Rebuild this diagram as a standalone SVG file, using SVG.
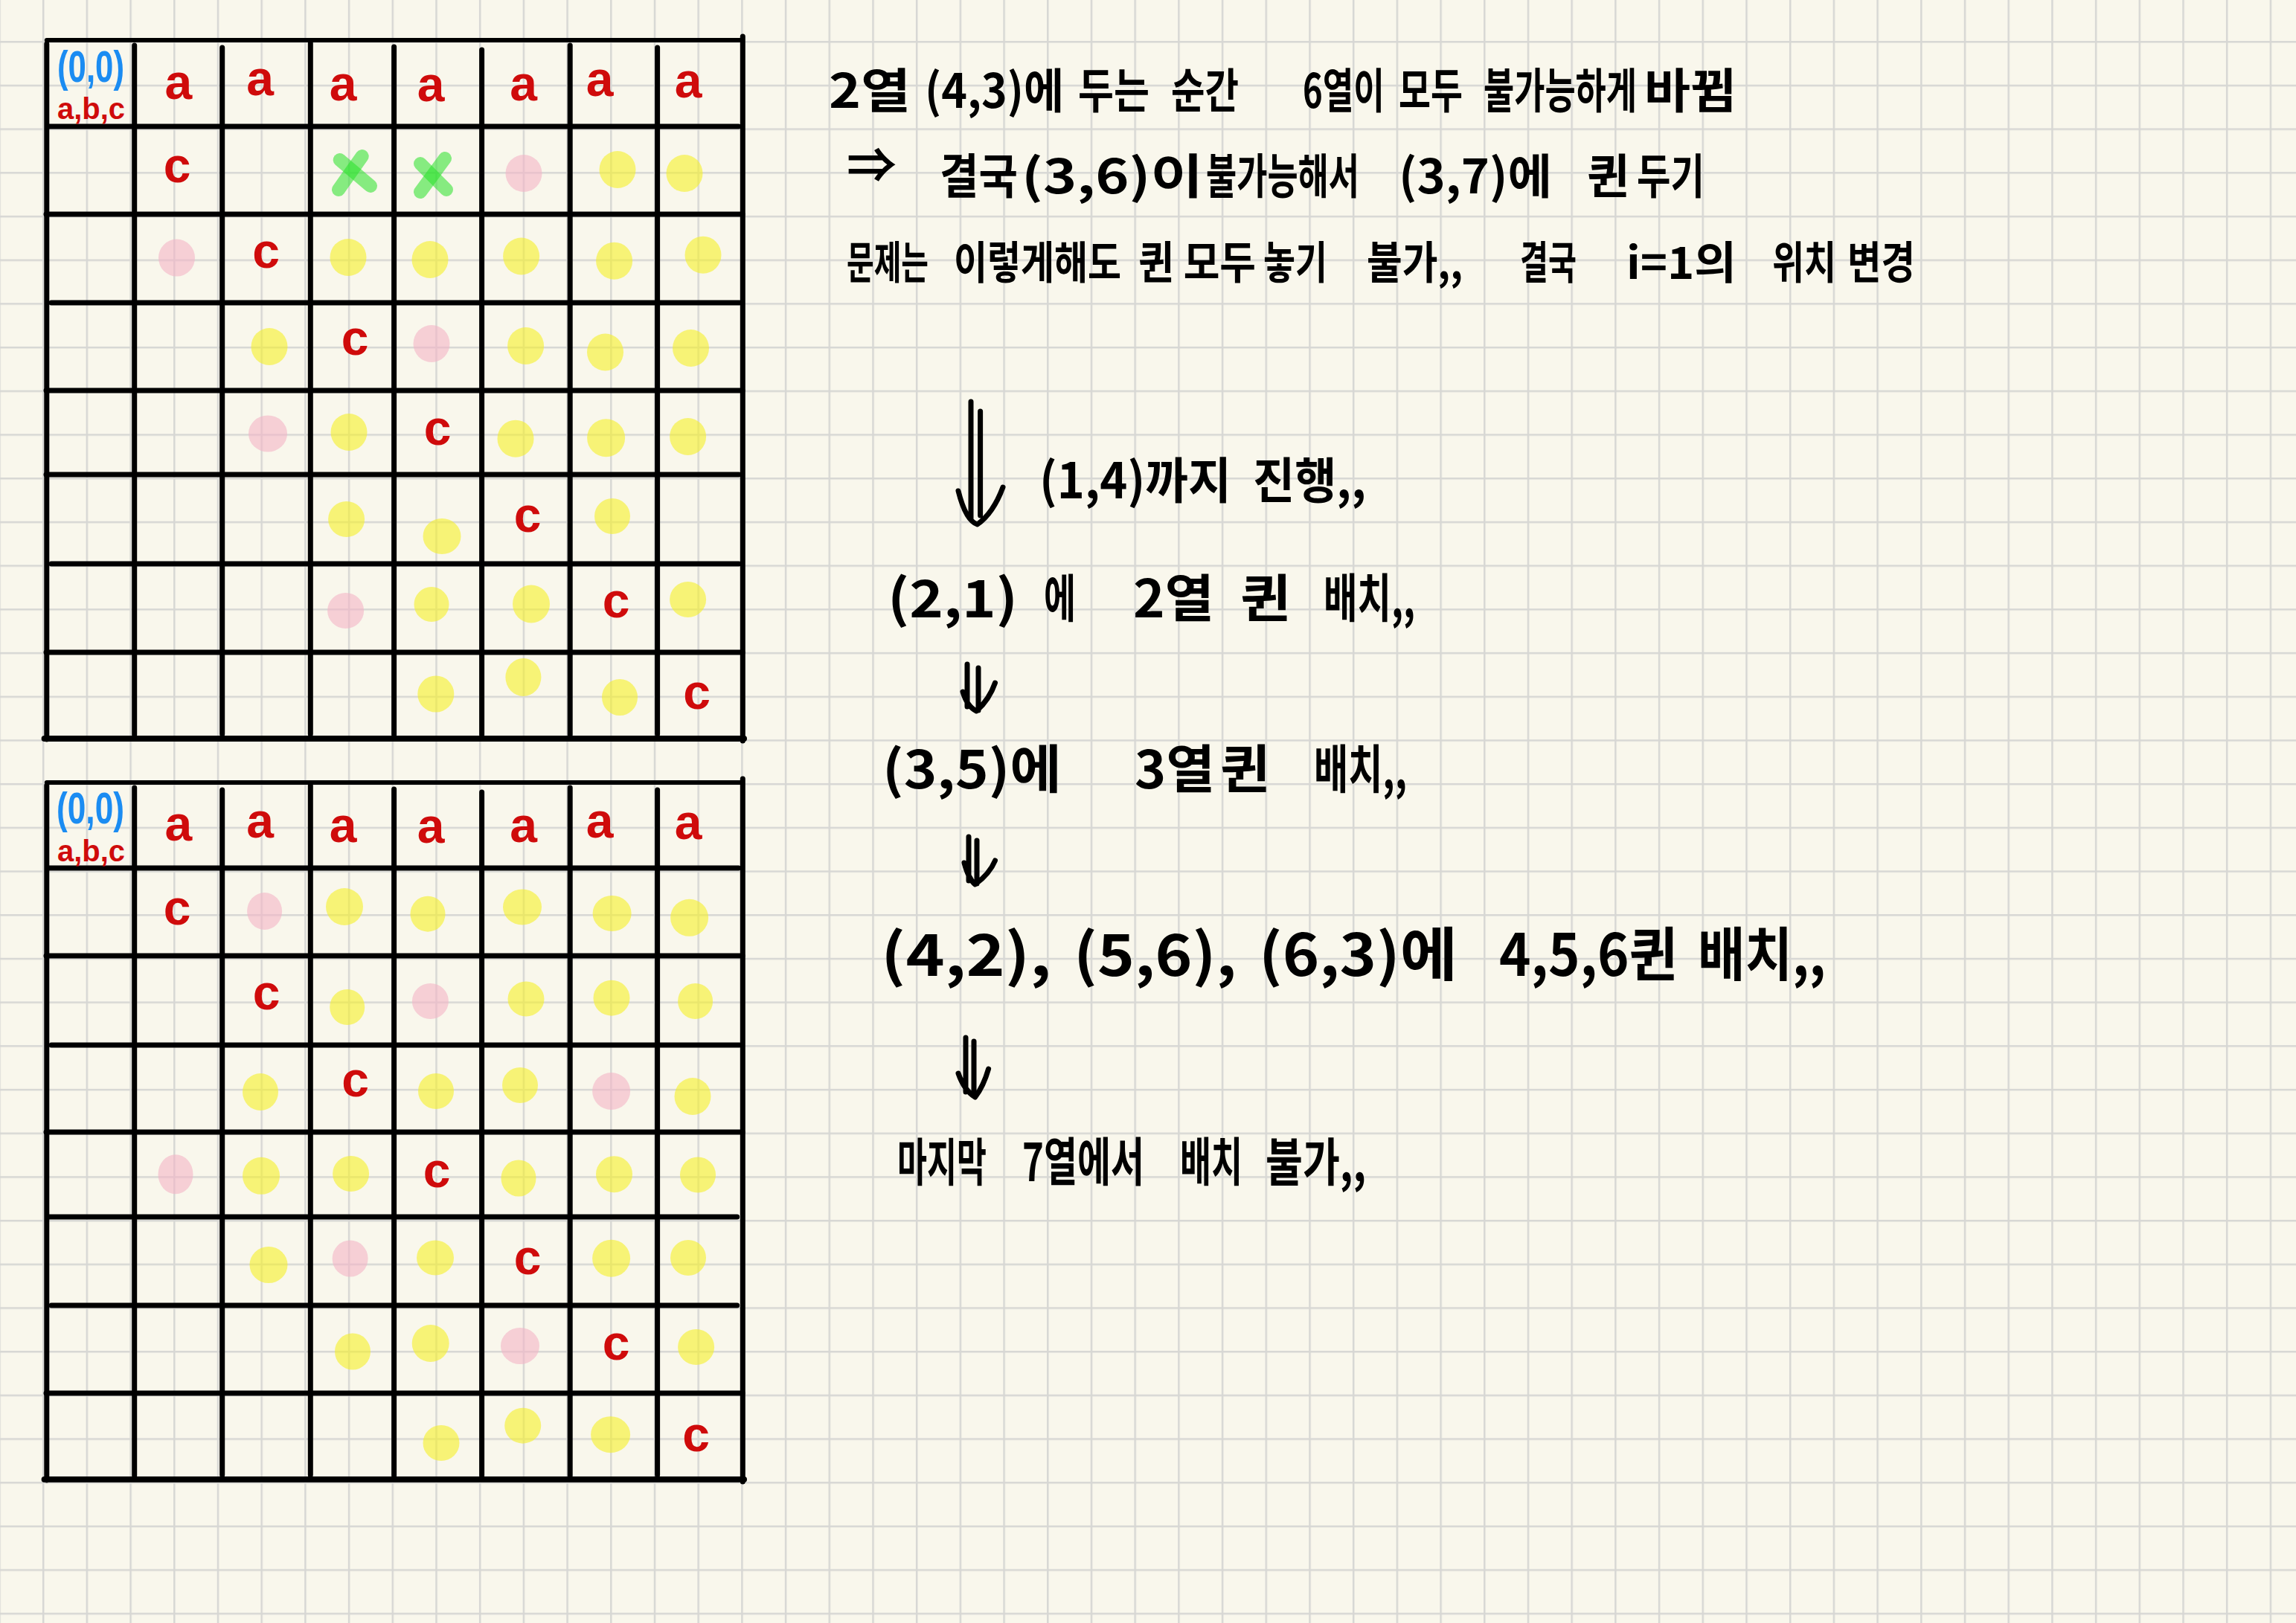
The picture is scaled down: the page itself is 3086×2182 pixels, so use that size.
<svg xmlns="http://www.w3.org/2000/svg" width="3086" height="2182" viewBox="0 0 3086 2182">
<defs>
<pattern id="pg" patternUnits="userSpaceOnUse" x="-1.75" y="-3.65" width="58.7" height="58.7">
<path d="M0 1.25H58.7M1.25 0V58.7" stroke="#d7d7d4" stroke-width="2.5" fill="none"/>
</pattern>
<style>
.gl{stroke:#000;stroke-width:7;stroke-linecap:round;fill:none}
.gb{stroke:#000;stroke-width:8;stroke-linecap:round;fill:none}
.ra{fill:#cf0b0b;font-family:"Liberation Sans","Noto Sans",sans-serif;font-weight:bold;font-size:66px;text-anchor:middle}
.bl{fill:#1b8cf2;font-family:"Liberation Sans","Noto Sans",sans-serif;font-weight:bold;font-size:44px}
.rs{fill:#cf0b0b;font-family:"Liberation Sans","Noto Sans",sans-serif;font-weight:bold;font-size:40px}
.y{fill:rgb(245,240,40);fill-opacity:0.6}
.p{fill:rgb(244,180,198);fill-opacity:0.6}
.gx{stroke:rgb(40,225,40);stroke-opacity:0.55;stroke-width:18;stroke-linecap:round}
.t{font-family:"Noto Sans CJK KR","Noto Sans",sans-serif;font-weight:700;fill:#000}
.ar{stroke:#000;stroke-width:7;stroke-linecap:round;stroke-linejoin:round;fill:none}
</style>
</defs>
<rect width="3086" height="2182" fill="#f9f7ec"/>
<rect width="3086" height="2182" fill="url(#pg)"/>

<g id="grid1">
<g id="grid1-marks">
<ellipse class="p" cx="704" cy="233" rx="24.5" ry="25"/>
<ellipse class="y" cx="830" cy="228" rx="24.5" ry="25"/>
<ellipse class="y" cx="920" cy="233" rx="24.5" ry="25"/>
<ellipse class="p" cx="237.5" cy="346.6" rx="24.5" ry="25"/>
<ellipse class="y" cx="468" cy="346" rx="24.5" ry="25"/>
<ellipse class="y" cx="578" cy="349" rx="24.5" ry="25"/>
<ellipse class="y" cx="700.6" cy="344.5" rx="24.5" ry="25"/>
<ellipse class="y" cx="825.6" cy="350.7" rx="24.5" ry="25"/>
<ellipse class="y" cx="945" cy="342.7" rx="24.5" ry="25"/>
<ellipse class="y" cx="362" cy="466" rx="24.5" ry="25"/>
<ellipse class="p" cx="580" cy="462" rx="24.5" ry="25"/>
<ellipse class="y" cx="706.6" cy="465" rx="24.5" ry="25"/>
<ellipse class="y" cx="813.5" cy="473.5" rx="24.5" ry="25"/>
<ellipse class="y" cx="928.5" cy="468" rx="24.5" ry="25"/>
<ellipse class="p" cx="360" cy="583" rx="26" ry="24.5"/>
<ellipse class="y" cx="469" cy="581" rx="24.5" ry="25"/>
<ellipse class="y" cx="693" cy="589.7" rx="24.5" ry="25"/>
<ellipse class="y" cx="814.6" cy="588.7" rx="25.5" ry="25.5"/>
<ellipse class="y" cx="924.6" cy="587" rx="24.5" ry="25"/>
<ellipse class="y" cx="465.6" cy="698" rx="24.5" ry="24"/>
<ellipse class="y" cx="594" cy="721" rx="25.5" ry="24"/>
<ellipse class="y" cx="823" cy="694" rx="24" ry="24"/>
<ellipse class="p" cx="464.6" cy="821" rx="24.5" ry="24"/>
<ellipse class="y" cx="580" cy="812.5" rx="23.5" ry="23.5"/>
<ellipse class="y" cx="714" cy="812" rx="25" ry="25.5"/>
<ellipse class="y" cx="924.6" cy="806" rx="24.5" ry="24"/>
<ellipse class="y" cx="585.8" cy="933" rx="24.5" ry="24.5"/>
<ellipse class="y" cx="703.4" cy="910.5" rx="24" ry="25.5"/>
<ellipse class="y" cx="833" cy="937.5" rx="24" ry="24.5"/>
<line class="gx" x1="455" y1="255" x2="486.7" y2="210"/>
<line class="gx" x1="456.7" y1="215" x2="498" y2="250"/>
<line class="gx" x1="565" y1="258" x2="598" y2="213"/>
<line class="gx" x1="565" y1="220" x2="600" y2="255"/>
</g>
<g id="grid1-lines">
<line class="gl" x1="62.8" y1="54" x2="998" y2="54" style="stroke-width:6"/>
<line class="gl" x1="66" y1="170" x2="992.6" y2="170"/>
<line class="gl" x1="62" y1="288" x2="998" y2="288"/>
<line class="gl" x1="69" y1="407" x2="994" y2="407"/>
<line class="gl" x1="62" y1="525" x2="998" y2="525"/>
<line class="gl" x1="62" y1="638" x2="993" y2="638"/>
<line class="gl" x1="69" y1="758" x2="993" y2="758"/>
<line class="gl" x1="62" y1="877" x2="998" y2="877"/>
<line class="gb" x1="59.6" y1="993" x2="1000" y2="993"/>
<line class="gl" x1="62.8" y1="59" x2="62.8" y2="994"/>
<line class="gl" x1="180.7" y1="61" x2="180.7" y2="988"/>
<line class="gl" x1="298.7" y1="64" x2="298.7" y2="987"/>
<line class="gl" x1="417.3" y1="58" x2="417.3" y2="987"/>
<line class="gl" x1="529.6" y1="63" x2="529.6" y2="988"/>
<line class="gl" x1="647.6" y1="67" x2="647.6" y2="988"/>
<line class="gl" x1="766.2" y1="61" x2="766.2" y2="988"/>
<line class="gl" x1="883.6" y1="64" x2="883.6" y2="987"/>
<line class="gl" x1="998.3" y1="49" x2="998.3" y2="996"/>
</g>
<g id="grid1-labels">
<text class="bl" transform="translate(77,110) scale(1,1.33)" textLength="90" lengthAdjust="spacingAndGlyphs">(0,0)</text>
<text class="rs" x="77" y="160" textLength="91" lengthAdjust="spacingAndGlyphs">a,b,c</text>
<text class="ra" x="239.8" y="133">a</text>
<text class="ra" x="349.6" y="128">a</text>
<text class="ra" x="461" y="135">a</text>
<text class="ra" x="579" y="136">a</text>
<text class="ra" x="703.7" y="135">a</text>
<text class="ra" x="806" y="129">a</text>
<text class="ra" x="925" y="131">a</text>
<text class="ra" x="238" y="245">c</text>
<text class="ra" x="357.5" y="360">c</text>
<text class="ra" x="477" y="477">c</text>
<text class="ra" x="588" y="598">c</text>
<text class="ra" x="709" y="715">c</text>
<text class="ra" x="828" y="830">c</text>
<text class="ra" x="936.5" y="953">c</text>
</g>
</g>

<g id="grid2">
<g id="grid2-marks">
<ellipse class="p" cx="355.6" cy="1225" rx="23.5" ry="25"/>
<ellipse class="y" cx="463" cy="1219" rx="25" ry="25"/>
<ellipse class="y" cx="575" cy="1228.7" rx="23.5" ry="24"/>
<ellipse class="y" cx="702" cy="1219.5" rx="26" ry="24"/>
<ellipse class="y" cx="822.6" cy="1228" rx="26" ry="24"/>
<ellipse class="y" cx="926.6" cy="1233.8" rx="25.5" ry="25"/>
<ellipse class="y" cx="466.7" cy="1354" rx="23.5" ry="24"/>
<ellipse class="p" cx="578.4" cy="1346" rx="24.5" ry="24"/>
<ellipse class="y" cx="707" cy="1343" rx="24.5" ry="23.5"/>
<ellipse class="y" cx="822" cy="1341.7" rx="24.5" ry="24"/>
<ellipse class="y" cx="934.6" cy="1346" rx="23.5" ry="24"/>
<ellipse class="y" cx="350" cy="1468" rx="24" ry="25"/>
<ellipse class="y" cx="586" cy="1467" rx="24" ry="24"/>
<ellipse class="y" cx="699" cy="1459" rx="24" ry="24"/>
<ellipse class="p" cx="821.6" cy="1467" rx="25.5" ry="25"/>
<ellipse class="y" cx="931" cy="1474" rx="24.5" ry="25"/>
<ellipse class="p" cx="236" cy="1578.7" rx="23.5" ry="26.5"/>
<ellipse class="y" cx="351" cy="1580.8" rx="25" ry="25"/>
<ellipse class="y" cx="471.6" cy="1578" rx="24.5" ry="24"/>
<ellipse class="y" cx="697" cy="1584" rx="23.5" ry="24.5"/>
<ellipse class="y" cx="825.5" cy="1578.7" rx="24.5" ry="24.5"/>
<ellipse class="y" cx="938" cy="1579.5" rx="24" ry="24"/>
<ellipse class="y" cx="361" cy="1700.5" rx="25.5" ry="24.5"/>
<ellipse class="p" cx="470.6" cy="1692" rx="24" ry="24.5"/>
<ellipse class="y" cx="585" cy="1691" rx="25" ry="23.5"/>
<ellipse class="y" cx="821.6" cy="1691.7" rx="25.5" ry="25"/>
<ellipse class="y" cx="925" cy="1691" rx="24" ry="24"/>
<ellipse class="y" cx="474" cy="1817" rx="24" ry="24.5"/>
<ellipse class="y" cx="578.7" cy="1806" rx="25" ry="25"/>
<ellipse class="p" cx="699" cy="1809.5" rx="26" ry="24.5"/>
<ellipse class="y" cx="935.6" cy="1811" rx="24.5" ry="24"/>
<ellipse class="y" cx="593" cy="1940" rx="24.5" ry="24"/>
<ellipse class="y" cx="702.7" cy="1916.7" rx="24.5" ry="24"/>
<ellipse class="y" cx="820.6" cy="1928.7" rx="26.5" ry="24.5"/>
</g>
<g id="grid2-lines">
<line class="gl" x1="62.8" y1="1052" x2="998" y2="1052" style="stroke-width:6"/>
<line class="gl" x1="66" y1="1167" x2="992.6" y2="1167"/>
<line class="gl" x1="62" y1="1285" x2="998" y2="1285"/>
<line class="gl" x1="69" y1="1405" x2="994" y2="1405"/>
<line class="gl" x1="62" y1="1522" x2="998" y2="1522"/>
<line class="gl" x1="66" y1="1636" x2="990.7" y2="1636"/>
<line class="gl" x1="69" y1="1755" x2="990.7" y2="1755"/>
<line class="gl" x1="62" y1="1873" x2="998" y2="1873"/>
<line class="gb" x1="59.6" y1="1989" x2="1000" y2="1989"/>
<line class="gl" x1="62.8" y1="1056" x2="62.8" y2="1990"/>
<line class="gl" x1="180.7" y1="1059" x2="180.7" y2="1984"/>
<line class="gl" x1="298.7" y1="1062" x2="298.7" y2="1983"/>
<line class="gl" x1="417.3" y1="1056" x2="417.3" y2="1983"/>
<line class="gl" x1="529.6" y1="1061" x2="529.6" y2="1984"/>
<line class="gl" x1="647.6" y1="1065" x2="647.6" y2="1984"/>
<line class="gl" x1="766.2" y1="1059" x2="766.2" y2="1984"/>
<line class="gl" x1="883.6" y1="1062" x2="883.6" y2="1983"/>
<line class="gl" x1="998.3" y1="1047" x2="998.3" y2="1992"/>
</g>
<g id="grid2-labels">
<text class="bl" transform="translate(76,1107) scale(1,1.33)" textLength="91" lengthAdjust="spacingAndGlyphs">(0,0)</text>
<text class="rs" x="77" y="1158" textLength="91" lengthAdjust="spacingAndGlyphs">a,b,c</text>
<text class="ra" x="239.8" y="1130">a</text>
<text class="ra" x="349.6" y="1126">a</text>
<text class="ra" x="461" y="1132">a</text>
<text class="ra" x="579" y="1133">a</text>
<text class="ra" x="703.7" y="1132">a</text>
<text class="ra" x="806" y="1126">a</text>
<text class="ra" x="925" y="1128">a</text>
<text class="ra" x="238" y="1243">c</text>
<text class="ra" x="358" y="1357">c</text>
<text class="ra" x="477.6" y="1474">c</text>
<text class="ra" x="587" y="1596">c</text>
<text class="ra" x="709" y="1713">c</text>
<text class="ra" x="828" y="1828">c</text>
<text class="ra" x="935.6" y="1951">c</text>
</g>
</g>

<g id="note-line1" class="t">
<text transform="translate(1114,145)" font-size="64" textLength="110" lengthAdjust="spacingAndGlyphs">2열</text>
<text transform="translate(1243,145) scale(1,1.1)" font-size="58" textLength="187" lengthAdjust="spacingAndGlyphs">(4,3)에</text>
<text transform="translate(1449,145) scale(1,1.39)" font-size="46" textLength="96" lengthAdjust="spacingAndGlyphs">두는</text>
<text transform="translate(1574,145) scale(1,1.45)" font-size="44" textLength="91" lengthAdjust="spacingAndGlyphs">순간</text>
<text transform="translate(1751,145) scale(1,1.56)" font-size="41" textLength="110" lengthAdjust="spacingAndGlyphs">6열이</text>
<text transform="translate(1880,145) scale(1,1.56)" font-size="41" textLength="86" lengthAdjust="spacingAndGlyphs">모두</text>
<text transform="translate(1994,145) scale(1,1.6)" font-size="40" textLength="206" lengthAdjust="spacingAndGlyphs">불가능하게</text>
<text transform="translate(2210,145) scale(1,1.07)" font-size="60" textLength="124" lengthAdjust="spacingAndGlyphs">바뀜</text>
</g>
<g id="note-line2" class="t">
<text transform="translate(1138,245)" font-size="64" textLength="67" lengthAdjust="spacingAndGlyphs">⇒</text>
<text transform="translate(1263,260) scale(1,1.28)" font-size="50" textLength="105" lengthAdjust="spacingAndGlyphs">결국</text>
<text transform="translate(1373,260)" font-size="64" textLength="244" lengthAdjust="spacingAndGlyphs">(3,6)이</text>
<text transform="translate(1621,260) scale(1,1.6)" font-size="40" textLength="206" lengthAdjust="spacingAndGlyphs">불가능해서</text>
<text transform="translate(1880,260)" font-size="64" textLength="206" lengthAdjust="spacingAndGlyphs">(3,7)에</text>
<text transform="translate(2133,260) scale(1,1.14)" font-size="56" textLength="58" lengthAdjust="spacingAndGlyphs">퀸</text>
<text transform="translate(2200,260) scale(1,1.45)" font-size="44" textLength="91" lengthAdjust="spacingAndGlyphs">두기</text>
</g>
<g id="note-line3" class="t">
<text transform="translate(1138,375) scale(1,1.71)" font-size="35" textLength="110" lengthAdjust="spacingAndGlyphs">문제는</text>
<text transform="translate(1282,375) scale(1,1.4)" font-size="43" textLength="225" lengthAdjust="spacingAndGlyphs">이렇게해도</text>
<text transform="translate(1530,375) scale(1,1.28)" font-size="47" textLength="158" lengthAdjust="spacingAndGlyphs">퀸 모두</text>
<text transform="translate(1698,375) scale(1,1.46)" font-size="41" textLength="86" lengthAdjust="spacingAndGlyphs">놓기</text>
<text transform="translate(1837,375) scale(1,1.22)" font-size="49" textLength="129" lengthAdjust="spacingAndGlyphs">불가,,</text>
<text transform="translate(2043,375) scale(1,1.67)" font-size="36" textLength="76" lengthAdjust="spacingAndGlyphs">결국</text>
<text transform="translate(2186,375) scale(1,1.03)" font-size="58" textLength="148" lengthAdjust="spacingAndGlyphs">i=1의</text>
<text transform="translate(2382,375) scale(1,1.46)" font-size="41" textLength="86" lengthAdjust="spacingAndGlyphs">위치</text>
<text transform="translate(2483,375) scale(1,1.36)" font-size="44" textLength="91" lengthAdjust="spacingAndGlyphs">변경</text>
</g>
<g id="step1" class="t">
<text transform="translate(1397,670) scale(1,1.08)" font-size="61" textLength="258" lengthAdjust="spacingAndGlyphs">(1,4)까지</text>
<text transform="translate(1684,670) scale(1,1.14)" font-size="58" textLength="152" lengthAdjust="spacingAndGlyphs">진행,,</text>
</g>
<g id="step2" class="t">
<text transform="translate(1193,830)" font-size="70" textLength="175" lengthAdjust="spacingAndGlyphs">(2,1)</text>
<text transform="translate(1403,830) scale(1,1.7)" font-size="41" textLength="43" lengthAdjust="spacingAndGlyphs">에</text>
<text transform="translate(1523,830) scale(1,1.04)" font-size="67" textLength="109" lengthAdjust="spacingAndGlyphs">2열</text>
<text transform="translate(1667,830) scale(1,1.04)" font-size="67" textLength="69" lengthAdjust="spacingAndGlyphs">퀸</text>
<text transform="translate(1779,830) scale(1,1.49)" font-size="47" textLength="123" lengthAdjust="spacingAndGlyphs">배치,,</text>
</g>
<g id="step3" class="t">
<text transform="translate(1186,1060)" font-size="70" textLength="241" lengthAdjust="spacingAndGlyphs">(3,5)에</text>
<text transform="translate(1525,1060) scale(1,1.06)" font-size="66" textLength="108" lengthAdjust="spacingAndGlyphs">3열</text>
<text transform="translate(1640,1060) scale(1,1.06)" font-size="66" textLength="68" lengthAdjust="spacingAndGlyphs">퀸</text>
<text transform="translate(1766,1060) scale(1,1.49)" font-size="47" textLength="125" lengthAdjust="spacingAndGlyphs">배치,,</text>
</g>
<g id="step4" class="t">
<text transform="translate(1184,1312)" font-size="78" textLength="229" lengthAdjust="spacingAndGlyphs">(4,2),</text>
<text transform="translate(1443,1312)" font-size="78" textLength="219" lengthAdjust="spacingAndGlyphs">(5,6),</text>
<text transform="translate(1692,1312)" font-size="78" textLength="267" lengthAdjust="spacingAndGlyphs">(6,3)에</text>
<text transform="translate(2015,1312) scale(1,1.1)" font-size="71" textLength="241" lengthAdjust="spacingAndGlyphs">4,5,6퀸</text>
<text transform="translate(2282,1312) scale(1,1.2)" font-size="65" textLength="172" lengthAdjust="spacingAndGlyphs">배치,,</text>
</g>
<g id="step5" class="t">
<text transform="translate(1206,1588) scale(1,1.84)" font-size="38" textLength="120" lengthAdjust="spacingAndGlyphs">마지막</text>
<text transform="translate(1374,1588) scale(1,1.59)" font-size="44" textLength="164" lengthAdjust="spacingAndGlyphs">7열에서</text>
<text transform="translate(1586,1588) scale(1,1.75)" font-size="40" textLength="84" lengthAdjust="spacingAndGlyphs">배치</text>
<text transform="translate(1701,1588) scale(1,1.37)" font-size="51" textLength="135" lengthAdjust="spacingAndGlyphs">불가,,</text>
</g>

<g id="connectors">
<path class="ar" d="M1305 540V698M1317.6 553V693M1288 660Q1298 700 1313.6 705Q1335 690 1348 655"/>
<path class="ar" d="M1300 893V950M1315 898V955M1294 930Q1300 950 1312.5 956Q1330 940 1337.5 918"/>
<path class="ar" d="M1302 1125V1184M1313 1130V1188M1296 1160Q1302 1182 1310.7 1189Q1330 1175 1337.5 1157"/>
<path class="ar" d="M1298 1395V1468M1309 1400V1470M1288 1443Q1296 1466 1310.7 1475Q1322 1460 1328.6 1437"/>
</g>
</svg>
